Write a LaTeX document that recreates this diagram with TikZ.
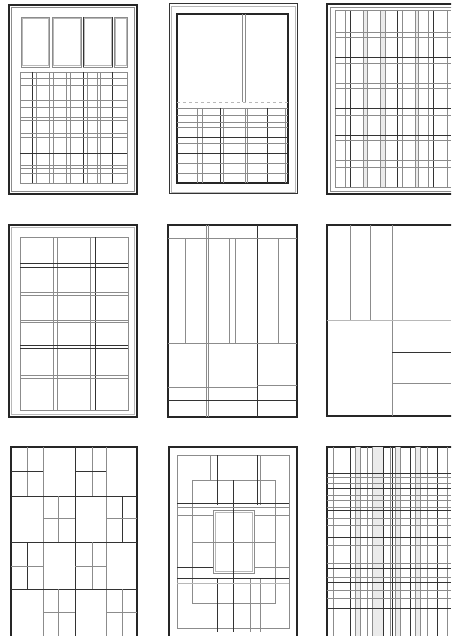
\documentclass[tikz,border=0pt]{standalone}
\begin{document}
\begin{tikzpicture}[x=1pt,y=-1pt,
  frame/.style={line width=1.4pt, draw=black!85},
  dk/.style={line width=0.8pt, draw=black!80},
  gr/.style={line width=0.75pt, draw=black!45},
  lt/.style={line width=0.6pt, draw=black!28}]
\useasboundingbox (0,0) rectangle (451,636);
\fill[white] (0,0) rectangle (451,636);
\clip (0,0) rectangle (451,636);

% ---------- Panel 1 ----------
\draw[frame] (9,5) rectangle (137,194);
\draw[gr] (11.5,7.5) rectangle (134.5,191.5);
\foreach \a/\b in {21/49,52/81,83/112,114/127}{
  \draw[gr] (\a,17) rectangle (\b,67);
  \draw[lt] (\a+1.2,18.2) rectangle (\b-1.2,65.8);}
\draw[dk] (83,17) -- (83,67);
\draw[dk] (112,17) -- (112,67);
\draw[gr] (20,72) rectangle (127,183);
\foreach \x in {36,49,53,66,70,87,97,100}{\draw[gr] (\x,72) -- (\x,183);}
\foreach \x in {32,83,112}{\draw[dk] (\x,72) -- (\x,183);}
\foreach \y in {78,85,100,107,117,120,133,137,165,168,173}{\draw[gr] (20,\y) -- (127,\y);}
\draw[dk] (20,153) -- (127,153);

% ---------- Panel 2 ----------
\draw[dk,line width=1pt] (169,4) rectangle (297,194);
\draw[lt] (171,6) rectangle (295,192);
\draw[frame] (177,14) rectangle (288,183);
\draw[gr] (242,14) -- (242,102);
\draw[gr] (245,14) -- (245,102);
\draw[lt,dashed] (177,102) -- (288,102);
\draw[gr] (177,108) -- (288,108);
\foreach \x in {197,202,220,223,245,247,285}{\draw[gr] (\x,108) -- (\x,183);}
\draw[dk] (267,108) -- (267,183);
\draw[dk] (220,108) -- (220,183);
\foreach \y in {115,122,127,137,143,153,163,173}{\draw[gr] (177,\y) -- (288,\y);}
\draw[dk] (177,137) -- (288,137);
\draw[dk] (177,153) -- (288,153);

% ---------- Panel 3 ----------
\draw[frame] (327,4) rectangle (470,194);
\draw[gr] (330,7) rectangle (470,191);
\fill[black!8] (363,10) rectangle (367,187);
\fill[black!8] (380,10) rectangle (385,187);
\fill[black!8] (415,10) rectangle (418,187);
\foreach \x in {335,345,350,363,367,380,385,397,402,415,418,428,433,447}{\draw[gr] (\x,10) -- (\x,187);}
\foreach \x in {350,397,433}{\draw[dk] (\x,10) -- (\x,187);}
\foreach \y in {10,32,37,57,63,83,88,108,115,135,140,160,167,187}{\draw[gr] (335,\y) -- (451,\y);}
\foreach \y in {57,108,135}{\draw[dk] (335,\y) -- (451,\y);}

% ---------- Panel 4 ----------
\draw[frame] (9,225) rectangle (137,417);
\draw[lt] (11.5,227.5) rectangle (134.5,414.5);
\draw[gr] (20,237) rectangle (128,410);
\foreach \x in {53,57,90}{\draw[gr] (\x,237) -- (\x,410);}
\draw[dk] (95,237) -- (95,410);
\foreach \y in {292,295,320,322,375,378}{\draw[gr] (20,\y) -- (128,\y);}
\foreach \y in {263,267,345,348}{\draw[dk] (20,\y) -- (128,\y);}

% ---------- Panel 5 ----------
\draw[frame] (168,225) rectangle (297,417);
\draw[gr] (208,225) -- (208,417);
\draw[gr] (206,225) -- (206,417);
\draw[dk] (257,225) -- (257,417);
\draw[gr] (168,238) -- (297,238);
\foreach \x in {185,229,235,278}{\draw[gr] (\x,238) -- (\x,343);}
\draw[gr] (168,343) -- (297,343);
\draw[gr] (168,387) -- (257,387);
\draw[gr] (257,385) -- (297,385);
\draw[dk] (168,400) -- (297,400);

% ---------- Panel 6 ----------
\draw[frame] (327,225) rectangle (470,416);
\draw[gr] (350,225) -- (350,320);
\draw[gr] (370,225) -- (370,320);
\draw[gr] (392,225) -- (392,416);
\draw[lt,line width=0.8pt] (327,320) -- (451,320);
\draw[dk] (392,352) -- (451,352);
\draw[gr] (392,383) -- (451,383);

% ---------- Panel 7 ----------
\draw[frame] (11,447) rectangle (137,640);
\draw[dk] (75,447) -- (75,636);
\foreach \x in {43,106}{\draw[gr] (\x,447) -- (\x,636);}
\foreach \y in {496,542,589}{\draw[dk] (11,\y) -- (137,\y);}
\draw[gr] (27,447) -- (27,496);  \draw[dk] (11,471) -- (43,471);
\draw[gr] (92,447) -- (92,496);  \draw[dk] (75,471) -- (106,471);
\draw[gr] (58,496) -- (58,542);  \draw[gr] (43,518) -- (75,518);
\draw[dk] (122,496) -- (122,542); \draw[gr] (106,518) -- (137,518);
\draw[dk] (27,542) -- (27,589);  \draw[gr] (11,566) -- (43,566);
\draw[gr] (92,542) -- (92,589);  \draw[gr] (75,566) -- (106,566);
\draw[gr] (58,589) -- (58,636);  \draw[gr] (43,612) -- (75,612);
\draw[gr] (122,589) -- (122,636); \draw[gr] (106,612) -- (137,612);

% ---------- Panel 8 ----------
\draw[frame] (169,447) rectangle (297,640);
\draw[gr] (177,455) rectangle (289,628);
\draw[gr] (192,480) rectangle (275,603);
\draw[gr] (213,510) rectangle (254,573);
\draw[lt] (215,512) rectangle (252,571);
\draw[dk] (217,455) -- (217,505);
\draw[dk] (257,455) -- (257,505);
\draw[gr] (260,455) -- (260,505);
\draw[gr] (210,455) -- (210,480);
\draw[dk] (233,480) -- (233,632);
\draw[dk] (217,578) -- (217,632);
\draw[gr] (250,578) -- (250,632);
\draw[gr] (260,578) -- (260,632);
\draw[dk] (177,503) -- (289,503);
\draw[gr] (177,507) -- (289,507);
\draw[gr] (177,515) -- (213,515);
\draw[gr] (254,515) -- (289,515);
\draw[gr] (192,542) -- (275,542);
\draw[dk] (177,567) -- (213,567);
\draw[gr] (254,567) -- (289,567);
\draw[dk] (177,578) -- (289,578);
\draw[lt] (177,583) -- (289,583);

% ---------- Panel 9 ----------
\draw[frame] (327,447) rectangle (470,640);
\fill[black!8] (355,447) rectangle (360,636);
\fill[black!8] (372,447) rectangle (383,636);
\fill[black!8] (395,447) rectangle (400,636);
\fill[black!8] (415,447) rectangle (420,636);
\foreach \x in {333,350,355,360,367,372,383,390,395,400,410,415,420,427,447}{\draw[gr] (\x,447) -- (\x,636);}
\foreach \x in {350,383,410}{\draw[dk,line width=0.6pt] (\x,447) -- (\x,636);}
\draw[dk,line width=1pt] (437,447) -- (437,636);
\draw[dk] (392,447) -- (392,636);
\foreach \y in {473,477,483,488,495,500,507,510,518,525,545,563,568,577,582,590,598}{\draw[gr] (327,\y) -- (451,\y);}
\foreach \y in {473,488,510,568,582}{\draw[dk,line width=0.6pt] (327,\y) -- (451,\y);}
\draw[dk,line width=1pt] (327,537) -- (451,537);
\draw[dk] (327,608) -- (451,608);
\end{tikzpicture}
\end{document}
